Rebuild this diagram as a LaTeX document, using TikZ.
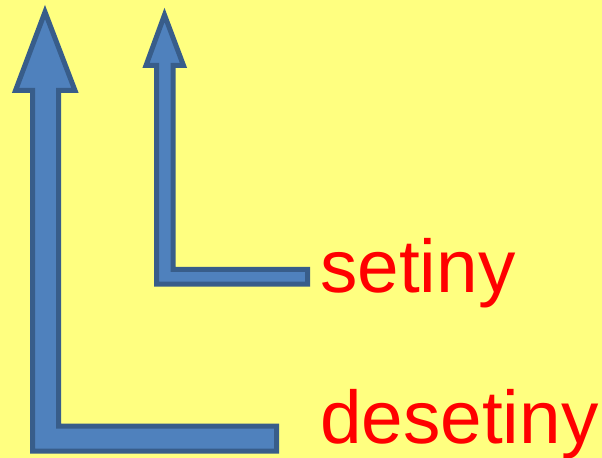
\documentclass[tikz,border=0pt]{standalone}
\usepackage{fontspec}
\setmainfont{Liberation Sans}
\definecolor{bgyellow}{RGB}{255,255,128}
\definecolor{arrowfill}{RGB}{79,129,189}
\definecolor{arrowline}{RGB}{56,93,138}
\definecolor{labelred}{RGB}{255,0,0}
\tikzset{
  bentarrow/.style={fill=arrowfill, draw=arrowline, line width=5bp, line join=miter, miter limit=10},
  lbl/.style={anchor=base west, inner sep=0pt, text=labelred, font=\fontsize{75}{80}\selectfont}
}
\begin{document}
\begin{tikzpicture}[x=1bp,y=-1bp]
  \fill[bgyellow] (0,0) rectangle (602,458);
  \useasboundingbox (0,0) rectangle (602,458);
  % big arrow (desetiny)
  \draw[bentarrow] (45,12) -- (75,90.5) -- (58.5,90.5) -- (58.5,426) -- (276.5,426)
     -- (276.5,451) -- (32.5,451) -- (32.5,90.5) -- (15.5,90.5) -- cycle;
  % small arrow (setiny)
  \draw[bentarrow] (164.5,15) -- (183.5,65.5) -- (173,65.5) -- (173,269.5) -- (307.5,269.5)
     -- (307.5,284) -- (156.5,284) -- (156.5,65.5) -- (146,65.5) -- cycle;
  \node[lbl] (setiny) at (320,293) {setiny};
  \node[lbl] (desetiny) at (320,443) {desetiny};
\end{tikzpicture}
\end{document}
